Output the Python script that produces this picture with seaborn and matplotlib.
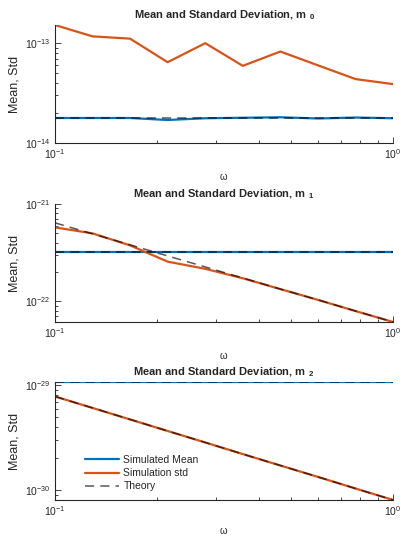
import numpy as np
import pandas as pd
import matplotlib
matplotlib.use('Agg')
import matplotlib.pyplot as plt
import matplotlib.ticker as mticker
import seaborn as sns

# frequencies (log-spaced, 10 points)
omega = [0.1, 0.1292, 0.1668, 0.2154, 0.2783, 0.3594, 0.4642, 0.5995, 0.7743, 1.0]

# m_0
m0_mean = [1.78e-14, 1.78e-14, 1.78e-14, 1.70e-14, 1.77e-14, 1.79e-14, 1.81e-14, 1.76e-14, 1.80e-14, 1.77e-14]
m0_std = [1.52e-13, 1.17e-13, 1.11e-13, 6.45e-14, 1.0e-13, 5.93e-14, 8.25e-14, 6.0e-14, 4.37e-14, 3.89e-14]
m0_theory_mean = [1.78e-14] * 10

# m_1
m1_mean = [3.19e-22] * 10
m1_std = [5.75e-22, 4.98e-22, 3.75e-22, 2.55e-22, 2.15e-22, 1.72e-22, 1.33e-22, 1.03e-22, 7.9e-23, 6.1e-23]
m1_theory_mean = [3.19e-22] * 10
m1_theory_std = [6.40e-22, 4.93e-22, 3.80e-22, 2.92e-22, 2.25e-22, 1.73e-22, 1.33e-22, 1.03e-22, 7.91e-23, 6.10e-23]

# m_2
m2_mean = [1.077e-29] * 10
m2_std = [7.83e-30, 6.08e-30, 4.72e-30, 3.66e-30, 2.84e-30, 2.20e-30, 1.71e-30, 1.33e-30, 1.03e-30, 8.0e-31]
m2_theory_mean = [1.077e-29] * 10
m2_theory_std = [7.83e-30, 6.08e-30, 4.72e-30, 3.66e-30, 2.84e-30, 2.20e-30, 1.71e-30, 1.33e-30, 1.03e-30, 8.0e-31]

ylims = [(1e-14, 1.52e-13), (6.1e-23, 1e-21), (8.0e-31, 1.077e-29)]

sns.set_style('ticks')
plt.rcParams['font.family'] = ['Liberation Sans', 'DejaVu Sans']
plt.rcParams['mathtext.fontset'] = 'custom'
plt.rcParams['mathtext.rm'] = 'Liberation Sans'
plt.rcParams['mathtext.it'] = 'Liberation Sans:italic'
plt.rcParams['mathtext.bf'] = 'Liberation Sans:bold'
plt.rcParams['mathtext.default'] = 'regular'
plt.rcParams['xtick.direction'] = 'in'
plt.rcParams['ytick.direction'] = 'in'

BLUE = '#0072BD'
ORANGE = '#D95319'
AXC = '0.15'

fig = plt.figure(figsize=(4.04, 5.36), dpi=100)
bottoms = [0.7332, 0.3993, 0.0672]
axes = [fig.add_axes([0.136, b, 0.837, 0.2201]) for b in bottoms]

panels = [
    (m0_mean, m0_std, [m0_theory_mean]),
    (m1_mean, m1_std, [m1_theory_mean, m1_theory_std]),
    (m2_mean, m2_std, [m2_theory_mean, m2_theory_std]),
]

for i, (ax, (mean, std, theory)) in enumerate(zip(axes, panels)):
    ax.set_xscale('log')
    ax.set_yscale('log')
    sns.lineplot(x=omega, y=mean, ax=ax, color=BLUE, linewidth=1.6,
                 estimator=None, label='Simulated Mean')
    sns.lineplot(x=omega, y=std, ax=ax, color=ORANGE, linewidth=1.6,
                 estimator=None, label='Simulation std')
    for j, th in enumerate(theory):
        sns.lineplot(x=omega, y=th, ax=ax, color='black', alpha=0.65, linewidth=1.1,
                     linestyle=(0, (6, 4)), estimator=None,
                     label='Theory' if j == 0 else None)
    ax.set_xlim(0.1, 1.0)
    ax.set_ylim(*ylims[i])
    sns.despine(ax=ax)
    for s in ['left', 'bottom']:
        ax.spines[s].set_color(AXC)
        ax.spines[s].set_linewidth(0.8)
    ax.tick_params(which='both', colors=AXC, labelsize=7.5, width=0.6)
    ax.tick_params(which='major', length=4, pad=3)
    ax.tick_params(which='minor', length=2.5)
    ax.xaxis.set_minor_formatter(mticker.NullFormatter())
    ax.yaxis.set_minor_formatter(mticker.NullFormatter())
    ax.set_title('Mean and Standard Deviation, m $_{\\mathbf{%d}}$' % i,
                 fontsize=8, fontweight='bold', pad=5)
    ax.set_xlabel('$\\omega$', fontsize=7, labelpad=5 if i == 2 else 7, color=AXC)
    ax.set_ylabel('Mean, Std', fontsize=9, labelpad=3, color=AXC)
    if i == 2:
        ax.legend(loc='lower left', bbox_to_anchor=(0.07, 0.02), frameon=False,
                  fontsize=7.5, handlelength=3.3, handletextpad=0.4,
                  labelspacing=0.3, borderaxespad=0.2)
    else:
        ax.get_legend().remove()

fig.savefig('out.png', dpi=100)
